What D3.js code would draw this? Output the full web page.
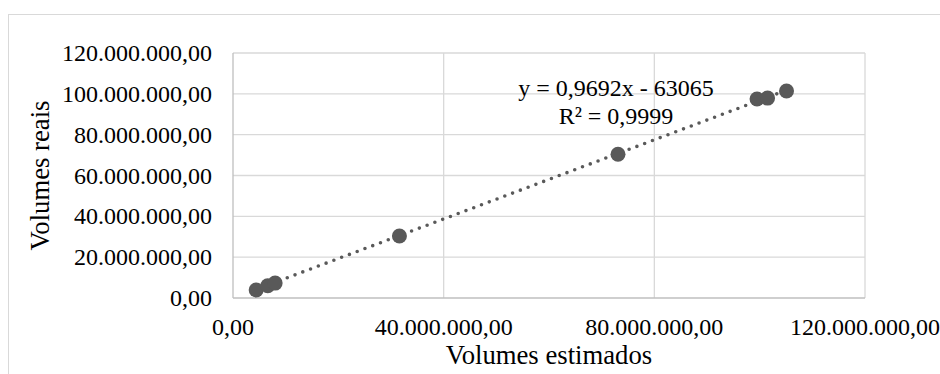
<!DOCTYPE html>
<html lang="pt">
<head>
  <meta charset="UTF-8" />
  <title>Volumes estimados x reais</title>
  <script src="https://d3js.org/d3.v7.min.js"></script>
  <style>
    body { margin: 0; background: #fff; }
    svg { display: block; font-family: "Liberation Serif", "Times New Roman", serif; }
  </style>
</head>
<body>
  <svg width="940" height="374"></svg>

  <script>
    // data (values in units)
    const estimated = [4.4e6, 6.6e6, 8.0e6, 31.6e6, 73.1e6, 99.5e6, 101.5e6, 105.1e6];
    const actual    = [3.9e6, 6.0e6, 7.3e6, 30.4e6, 70.4e6, 97.5e6, 97.9e6, 101.4e6];
    const xTicks = [0, 40e6, 80e6, 120e6];
    const yTicks = [0, 20e6, 40e6, 60e6, 80e6, 100e6, 120e6];
    // trendline as printed in the label
    const slope = 0.9692;
    const intercept = -63065;
    const eqLines = ["y = 0,9692x - 63065", "R² = 0,9999"];

    const svg = d3.select("svg");
    const plot = { left: 233, right: 865, top: 53, bottom: 298 };

    // pt-BR number format: 120.000.000,00
    const fmt = d3.formatLocale({ decimal: ",", thousands: ".", grouping: [3], currency: ["R$", ""] }).format(",.2f");

    const x = d3.scaleLinear().domain([0, 120e6]).range([plot.left, plot.right]);
    const y = d3.scaleLinear().domain([0, 120e6]).range([plot.bottom, plot.top]);

    // outer chart border
    svg.append("rect")
      .attr("x", 8.5).attr("y", 14.5)
      .attr("width", 1000).attr("height", 1000)
      .attr("fill", "none").attr("stroke", "#d9d9d9");

    // gridlines
    svg.append("g").selectAll("line")
      .data(yTicks.slice(1))
      .join("line")
      .attr("x1", plot.left).attr("x2", plot.right)
      .attr("y1", d => y(d)).attr("y2", d => y(d))
      .attr("stroke", "#d9d9d9").attr("stroke-width", 1.3);

    svg.append("g").selectAll("line")
      .data(xTicks.slice(1))
      .join("line")
      .attr("x1", d => x(d)).attr("x2", d => x(d))
      .attr("y1", plot.top).attr("y2", plot.bottom)
      .attr("stroke", "#d9d9d9").attr("stroke-width", 1.3);

    // axis lines
    svg.append("line")
      .attr("x1", plot.left).attr("x2", plot.left)
      .attr("y1", plot.top).attr("y2", plot.bottom)
      .attr("stroke", "#bfbfbf").attr("stroke-width", 1.3);
    svg.append("line")
      .attr("x1", plot.left).attr("x2", plot.right)
      .attr("y1", plot.bottom).attr("y2", plot.bottom)
      .attr("stroke", "#bfbfbf").attr("stroke-width", 1.3);

    // tick labels
    svg.append("g").selectAll("text")
      .data(yTicks)
      .join("text")
      .attr("x", 212)
      .attr("y", d => y(d) + 8)
      .attr("text-anchor", "end")
      .attr("font-size", 24)
      .attr("fill", "#000")
      .text(fmt);

    svg.append("g").selectAll("text")
      .data(xTicks)
      .join("text")
      .attr("x", d => x(d))
      .attr("y", 335)
      .attr("text-anchor", "middle")
      .attr("font-size", 24)
      .attr("fill", "#000")
      .text(fmt);

    // axis titles
    svg.append("text")
      .attr("transform", `translate(49,${(plot.top + plot.bottom) / 2}) rotate(-90)`)
      .attr("text-anchor", "middle")
      .attr("font-size", 26.7)
      .text("Volumes reais");

    svg.append("text")
      .attr("x", (plot.left + plot.right) / 2)
      .attr("y", 364)
      .attr("text-anchor", "middle")
      .attr("font-size", 26.7)
      .text("Volumes estimados");

    // trendline (dotted) across the data range
    const xMin = d3.min(estimated), xMax = d3.max(estimated);
    svg.append("line")
      .attr("x1", x(xMin)).attr("y1", y(slope * xMin + intercept))
      .attr("x2", x(xMax)).attr("y2", y(slope * xMax + intercept))
      .attr("stroke", "#595959")
      .attr("stroke-width", 3.6)
      .attr("stroke-linecap", "round")
      .attr("stroke-dasharray", "0 8.3");

    // points
    svg.append("g").selectAll("circle")
      .data(estimated.map((d, i) => [d, actual[i]]))
      .join("circle")
      .attr("cx", d => x(d[0]))
      .attr("cy", d => y(d[1]))
      .attr("r", 7.5)
      .attr("fill", "#595959");

    // equation label
    svg.append("g").selectAll("text")
      .data(eqLines)
      .join("text")
      .attr("x", 616)
      .attr("y", (d, i) => 96 + i * 27.5)
      .attr("text-anchor", "middle")
      .attr("font-size", 24)
      .attr("fill", "#000")
      .text(d => d);
  </script>
</body>
</html>
